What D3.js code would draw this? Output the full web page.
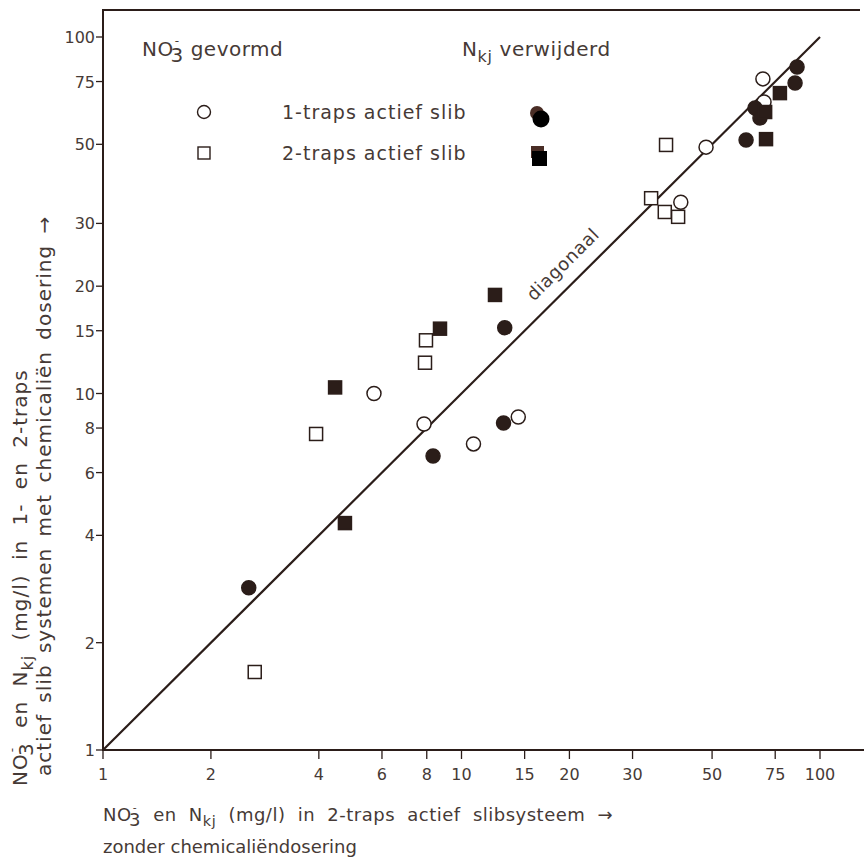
<!DOCTYPE html>
<html>
<head>
<meta charset="utf-8">
<script src="https://cdn.jsdelivr.net/npm/d3@7"></script>
<style>
  body { margin: 0; background: #fff; }
  svg { display: block; }
  text { fill: #463a36; font-family: "DejaVu Sans", "Open Sans", sans-serif; }
  .tick-lbl { font-size: 16px; }
</style>
</head>
<body>
<svg id="chart" width="864" height="859"></svg>
<script>
// tick labels on both axes
const xTicks = [1, 2, 4, 6, 8, 10, 15, 20, 30, 50, 75, 100];
const yTicks = [1, 2, 4, 6, 8, 10, 15, 20, 30, 50, 75, 100];

// [zonder chemicalien, met chemicalien] in mg/l
const no3_1traps = [[5.7, 10.0], [7.86, 8.21], [10.8, 7.22], [14.4, 8.59], [40.9, 34.4], [48.1, 49.1], [69.3, 76.3], [69.8, 65.7]];
const no3_2traps = [[2.65, 1.655], [3.93, 7.70], [7.91, 12.2], [7.96, 14.1], [33.8, 35.3], [36.9, 32.3], [40.2, 31.3], [37.2, 49.8]];
const nkj_1traps = [[2.55, 2.85], [8.33, 6.68], [13.1, 8.27], [13.2, 15.3], [62.2, 51.4], [65.9, 63.2], [68.0, 59.3], [86.3, 82.4], [85.2, 74.3]];
const nkj_2traps = [[4.73, 4.33], [4.44, 10.4], [8.71, 15.2], [12.4, 18.9], [70.7, 51.7], [70.3, 61.6], [77.3, 69.6]];

const diagonaal = [[1, 1], [100, 100]];

const INK = "#2b1d19";

const $svg = d3.select("#chart");

const x = d3.scaleLog().domain([1, 100]).range([103, 820]);
const y = d3.scaleLog().domain([1, 100]).range([750, 37]);

// kader
$svg.append("line").attr("x1", 103).attr("x2", 103).attr("y1", 9).attr("y2", 751)
    .attr("stroke", INK).attr("stroke-width", 2);
$svg.append("line").attr("x1", 102).attr("x2", 860).attr("y1", 10).attr("y2", 10)
    .attr("stroke", INK).attr("stroke-width", 2);
$svg.append("line").attr("x1", 102).attr("x2", 864).attr("y1", 750).attr("y2", 750)
    .attr("stroke", INK).attr("stroke-width", 2);

// x ticks
const gx = $svg.append("g");
gx.selectAll("line").data(xTicks).enter().append("line")
  .attr("x1", d => x(d)).attr("x2", d => x(d))
  .attr("y1", 750).attr("y2", 759)
  .attr("stroke", INK).attr("stroke-width", 1.3);
gx.selectAll("text").data(xTicks).enter().append("text")
  .attr("class", "tick-lbl")
  .attr("x", d => x(d)).attr("y", 780)
  .attr("text-anchor", "middle")
  .text(d => d);

// y ticks
const gy = $svg.append("g");
gy.selectAll("line").data(yTicks).enter().append("line")
  .attr("x1", 96).attr("x2", 103)
  .attr("y1", d => y(d)).attr("y2", d => y(d))
  .attr("stroke", INK).attr("stroke-width", 1.3);
gy.selectAll("text").data(yTicks).enter().append("text")
  .attr("class", "tick-lbl")
  .attr("x", 95).attr("y", d => y(d) + 6)
  .attr("text-anchor", "end")
  .text(d => d);

// diagonaal
const line = d3.line().x(d => x(d[0])).y(d => y(d[1]));
$svg.append("path").datum(diagonaal)
    .attr("d", line).attr("fill", "none")
    .attr("stroke", INK).attr("stroke-width", 2.2);

const ang = Math.atan2(y(100) - y(1), x(100) - x(1)) * 180 / Math.PI;
$svg.append("text")
    .attr("transform", `translate(${x(21)},${y(21)}) rotate(${ang})`)
    .attr("dy", -14)
    .attr("text-anchor", "middle")
    .attr("font-size", 18)
    .attr("letter-spacing", 0.6)
    .text("diagonaal");

// markers
const r = 7;
const s = 13;
const addCircles = function(data, filled) {
  $svg.append("g").selectAll("circle").data(data).enter().append("circle")
    .attr("cx", d => x(d[0])).attr("cy", d => y(d[1])).attr("r", r)
    .attr("fill", filled ? INK : "#fff")
    .attr("stroke", INK).attr("stroke-width", 1.5);
};
const addSquares = function(data, filled) {
  $svg.append("g").selectAll("rect").data(data).enter().append("rect")
    .attr("x", d => x(d[0]) - s / 2).attr("y", d => y(d[1]) - s / 2)
    .attr("width", s).attr("height", s)
    .attr("fill", filled ? INK : "#fff")
    .attr("stroke", INK).attr("stroke-width", 1.5);
};
addSquares(no3_2traps, false);
addCircles(no3_1traps, false);
addCircles(nkj_1traps, true);
addSquares(nkj_2traps, true);

// NO3- en Nkj met sub/superscript
const no3 = function(t, size) {
  t.append("tspan").text("NO");
  t.append("tspan").attr("dx", 1).attr("dy", -size * 0.55).attr("font-size", size * 0.6).text("-");
  t.append("tspan").attr("dx", -size * 0.45).attr("dy", size * 0.85).text("3");
  t.append("tspan").attr("dy", -size * 0.3).text("\u00a0");
};
const nkj = function(t, size) {
  t.append("tspan").text("N");
  t.append("tspan").attr("dy", size * 0.3).attr("font-size", size * 0.8).text("kj");
  t.append("tspan").attr("dy", -size * 0.3).text("\u00a0");
};

// legenda
const h1 = $svg.append("text").attr("x", 142).attr("y", 56).attr("font-size", 20).attr("letter-spacing", 0.5);
no3(h1, 20);
h1.append("tspan").text("gevormd");
const h2 = $svg.append("text").attr("x", 462).attr("y", 56).attr("font-size", 20).attr("letter-spacing", 0.6);
nkj(h2, 20);
h2.append("tspan").text("verwijderd");

$svg.append("circle").attr("cx", 204).attr("cy", 112).attr("r", 6.5)
    .attr("fill", "#fff").attr("stroke", INK).attr("stroke-width", 1.4);
$svg.append("rect").attr("x", 198).attr("y", 147).attr("width", 12).attr("height", 12)
    .attr("fill", "#fff").attr("stroke", INK).attr("stroke-width", 1.4);
$svg.append("text").attr("x", 282).attr("y", 119).attr("font-size", 19).attr("letter-spacing", 1).text("1-traps actief slib");
$svg.append("text").attr("x", 282).attr("y", 160).attr("font-size", 19).attr("letter-spacing", 1).text("2-traps actief slib");

$svg.append("circle").attr("cx", 537).attr("cy", 113).attr("r", 7).attr("fill", "#4a2e26");
$svg.append("circle").attr("cx", 541).attr("cy", 119).attr("r", 8.5).attr("fill", "#000");
$svg.append("rect").attr("x", 531).attr("y", 146).attr("width", 13).attr("height", 12).attr("fill", "#4a2e26");
$svg.append("rect").attr("x", 532).attr("y", 151).attr("width", 15).attr("height", 15).attr("fill", "#000");

// as-titels
const xt = $svg.append("text").attr("x", 103).attr("y", 821).attr("font-size", 18)
    .attr("letter-spacing", 0.5).attr("word-spacing", 6);
no3(xt, 18);
xt.append("tspan").text("en ");
nkj(xt, 18);
xt.append("tspan").text("(mg/l) in 2-traps actief slibsysteem \u2192");
$svg.append("text").attr("x", 103).attr("y", 853).attr("font-size", 18).text("zonder chemicaliëndosering");

const yt1 = $svg.append("text").attr("transform", "translate(27,786) rotate(-90)").attr("font-size", 20)
    .attr("letter-spacing", 1).attr("word-spacing", 7);
no3(yt1, 20);
yt1.append("tspan").text("en ");
nkj(yt1, 20);
yt1.append("tspan").text("(mg/l) in 1- en 2-traps");

$svg.append("text").attr("transform", "translate(51,776) rotate(-90)").attr("font-size", 20)
    .attr("letter-spacing", 1).attr("word-spacing", 4)
    .text("actief slib systemen met chemicaliën dosering \u2192");
</script>
</body>
</html>
